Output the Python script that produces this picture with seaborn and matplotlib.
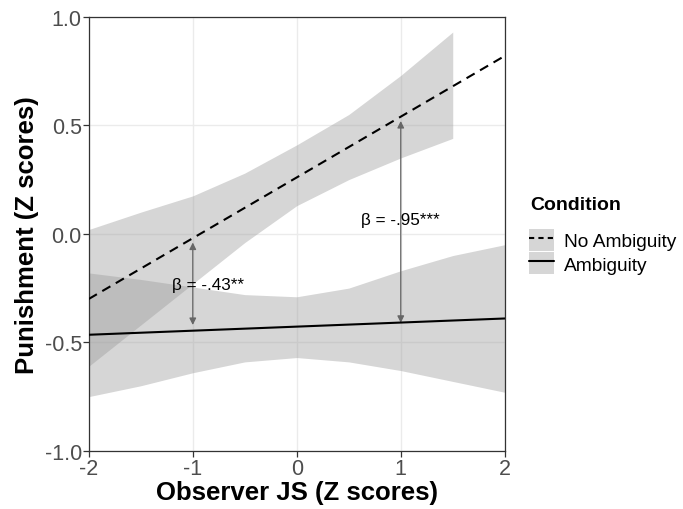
import numpy as np
import pandas as pd
import matplotlib
matplotlib.use("Agg")
import matplotlib.pyplot as plt
import seaborn as sns
from matplotlib.lines import Line2D
from matplotlib.patches import Patch

# fitted lines
line_x = [-2, 2]
no_amb_line = [-0.30, 0.82]
amb_line = [-0.465, -0.39]

# confidence bands
no_amb_band_x = [-2, -1.5, -1, -0.5, 0, 0.5, 1, 1.5]
no_amb_upper = [0.02, 0.10, 0.175, 0.28, 0.41, 0.55, 0.73, 0.93]
no_amb_lower = [-0.61, -0.42, -0.23, -0.04, 0.13, 0.25, 0.35, 0.44]

amb_band_x = [-2, -1.5, -1, -0.5, 0, 0.5, 1, 1.5, 2]
amb_upper = [-0.18, -0.21, -0.245, -0.28, -0.29, -0.25, -0.17, -0.10, -0.05]
amb_lower = [-0.75, -0.70, -0.64, -0.59, -0.57, -0.59, -0.63, -0.68, -0.73]

conditions = ["No Ambiguity", "Ambiguity"]

# simple-slope annotations: x, top, bottom, label, label x, label y
arrow_x = [-1, 1]
arrow_top = [-0.04, 0.52]
arrow_bottom = [-0.42, -0.41]
beta_labels = ["\u03b2 = -.43**", "\u03b2 = -.95***"]
label_x = [-0.85, 1.0]
label_y = [-0.235, 0.065]

sns.set_style("white")
plt.rcParams["font.family"] = ["Liberation Sans", "DejaVu Sans"]
plt.rcParams["text.color"] = "black"

df = pd.DataFrame({
    "x": line_x + line_x,
    "y": no_amb_line + amb_line,
    "Condition": [conditions[0]] * 2 + [conditions[1]] * 2,
})

fig = plt.figure(figsize=(6.83, 5.10), dpi=100)
ax = fig.add_axes([0.130, 0.114, 0.609, 0.851])

band_color = "#999999"
ax.fill_between(no_amb_band_x, no_amb_lower, no_amb_upper, color=band_color,
                alpha=0.4, linewidth=0, zorder=1)
ax.fill_between(amb_band_x, amb_lower, amb_upper, color=band_color,
                alpha=0.4, linewidth=0, zorder=1)

sns.lineplot(data=df, x="x", y="y", style="Condition", style_order=conditions,
             dashes={"No Ambiguity": (4.5, 3), "Ambiguity": ""},
             color="black", linewidth=1.5, legend=False, ax=ax, zorder=3)

for xa, top, bot, lab, lx, ly in zip(arrow_x, arrow_top, arrow_bottom,
                                     beta_labels, label_x, label_y):
    ax.annotate("", xy=(xa, top), xytext=(xa, bot),
                arrowprops=dict(arrowstyle="<|-|>", color="#666666", lw=0.9,
                                mutation_scale=10, shrinkA=0, shrinkB=0),
                zorder=2)
    ax.text(lx, ly, lab, ha="center", va="center", fontsize=12.3,
            color="black", zorder=4)

ax.set_xlim(-2, 2)
ax.set_ylim(-1, 1)
ax.set_xticks([-2, -1, 0, 1, 2])
ax.set_yticks([-1.0, -0.5, 0.0, 0.5, 1.0])
ax.set_xticklabels(["-2", "-1", "0", "1", "2"])
ax.set_yticklabels(["-1.0", "-0.5", "0.0", "0.5", "1.0"])
ax.grid(True, color="#EBEBEB", linewidth=1.0, zorder=0)
ax.set_axisbelow(True)
for s in ax.spines.values():
    s.set_color("#333333")
    s.set_linewidth(0.9)
ax.tick_params(axis="both", direction="out", length=4, width=0.9,
               color="#333333", labelsize=15.5, labelcolor="#4D4D4D", pad=1,
               left=True, bottom=True)
ax.set_xlabel("Observer JS (Z scores)", fontsize=18.5, fontweight="bold",
              color="black", labelpad=1)
ax.set_ylabel("Punishment (Z scores)", fontsize=18.5, fontweight="bold",
              color="black", labelpad=4)

# legend: title placed separately to get ggplot-like spacing
fig.text(530 / 683, 1 - 205 / 510, "Condition", fontsize=14,
         fontweight="bold", color="black", ha="left", va="center")
handles = [
    (Patch(facecolor="#D6D6D6", edgecolor="none"),
     Line2D([], [], color="black", lw=1.5, dashes=(2.5, 2))),
    (Patch(facecolor="#D6D6D6", edgecolor="none"),
     Line2D([], [], color="black", lw=1.5)),
]
leg = fig.legend(handles, conditions, loc="upper left",
                 bbox_to_anchor=(529 / 683, 1 - 230 / 510), frameon=False,
                 fontsize=13.8, handlelength=1.3, handleheight=1.4,
                 handletextpad=0.5, labelspacing=0.05, borderaxespad=0,
                 borderpad=0, labelcolor="black")

fig.savefig("out.png", dpi=100)
